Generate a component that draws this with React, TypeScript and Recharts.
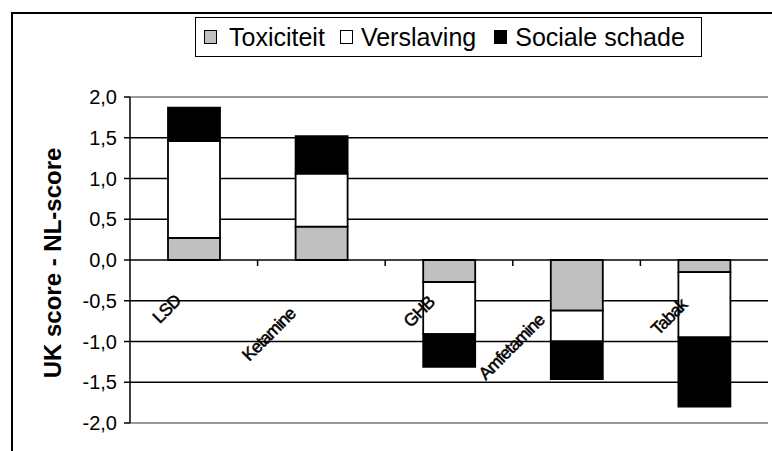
import React from "react";
import { BarChart, Bar, XAxis, YAxis, CartesianGrid } from "recharts";

const categories = ["LSD", "Ketamine", "GHB", "Amfetamine", "Tabak"];
const toxiciteit = [0.27, 0.41, -0.27, -0.62, -0.15];
const verslaving = [1.19, 0.65, -0.64, -0.38, -0.8];
const socialeSchade = [0.41, 0.46, -0.4, -0.46, -0.85];
const yTicks = [-2, -1.5, -1, -0.5, 0, 0.5, 1, 1.5, 2];

const seriesInfo = [
  { key: "tox", name: "Toxiciteit", color: "#C0C0C0" },
  { key: "vers", name: "Verslaving", color: "#FFFFFF" },
  { key: "soc", name: "Sociale schade", color: "#000000" },
];

const data = categories.map((c, i) => ({
  name: c,
  tox: toxiciteit[i],
  vers: verslaving[i],
  soc: socialeSchade[i],
}));

const W = 772;
const H = 451;
const M = { top: 97, right: 4, bottom: 0, left: 0 };
const X_AXIS_H = 28;
const Y_AXIS_W = 130;
const PLOT_W = W - M.left - M.right - Y_AXIS_W;
const PLOT_H = H - M.top - M.bottom - X_AXIS_H;
const BAND = PLOT_W / categories.length;
const ZERO_Y = M.top + PLOT_H / 2;
const FONT = '"Liberation Sans", Arial, sans-serif';
const XFS = 17.5;

let canvasCtx: CanvasRenderingContext2D | null = null;
function measure(text: string, font: string) {
  try {
    if (!canvasCtx) {
      const c = document.createElement("canvas");
      canvasCtx = c.getContext("2d");
    }
    if (!canvasCtx) return text.length * 8;
    canvasCtx.font = font;
    return canvasCtx.measureText(text).width;
  } catch (e) {
    return text.length * 8;
  }
}

const renderXTick = (props: any) => {
  const { x, payload, index } = props;
  const label = String(payload.value);
  const L = measure(label, `16px ${FONT}`);
  const ax = x - 1;
  const ay = ZERO_Y + 31;
  return (
    <g key={`xt-${index}`}>
      {index < categories.length - 1 && (
        <line x1={x + BAND / 2} x2={x + BAND / 2} y1={ZERO_Y} y2={ZERO_Y + 6} stroke="#000" strokeWidth={1.5} />
      )}
      <text
        transform={`translate(${ax},${ay}) rotate(-45)`}
        x={-L / 2}
        y={0}
        textAnchor="end"
        fontFamily={FONT}
        fontSize={XFS}
        fill="#000"
        stroke="#000"
        strokeWidth={0.5}
        letterSpacing={-0.9}
      >
        {label}
      </text>
    </g>
  );
};

const renderHLine = (p: any) => {
  const edge = Math.abs(p.y1 - M.top) < 1 || Math.abs(p.y1 - (M.top + PLOT_H)) < 1;
  return (
    <line
      key={`hl-${p.index}-${p.y1}`}
      x1={p.x1}
      x2={p.x2}
      y1={p.y1}
      y2={p.y2}
      stroke={edge ? "#999" : "#000"}
      strokeWidth={edge ? 2 : 1.4}
    />
  );
};

const YTitle = (props: any) => {
  const vb = props.viewBox || { x: 0, y: M.top, width: Y_AXIS_W, height: PLOT_H };
  const cx = 52;
  const cy = vb.y + vb.height / 2 + 3;
  return (
    <text
      transform={`translate(${cx},${cy}) rotate(-90)`}
      textAnchor="middle"
      dominantBaseline="central"
      fontFamily={FONT}
      fontWeight="bold"
      fontSize={24}
      fill="#000"
    >
      UK score - NL-score
    </text>
  );
};

const fmt = (v: number) => v.toFixed(1).replace(".", ",");

export default function App() {
  return (
    <div style={{ position: "absolute", left: 0, top: 0, width: W, height: H, background: "#fff", overflow: "hidden" }}>
      <div
        style={{
          position: "absolute",
          left: 11,
          top: 12,
          width: W + 20,
          height: H + 20,
          border: "2px solid #000",
          boxSizing: "border-box",
        }}
      />
      <BarChart width={W} height={H} data={data} margin={M} barSize={52} style={{ position: "absolute", left: 0, top: 0 }}>
        <CartesianGrid vertical={false} horizontal={renderHLine} />
        <XAxis
          dataKey="name"
          axisLine={{ stroke: "#999", strokeWidth: 2 }}
          tickLine={false}
          tickSize={0}
          tickMargin={0}
          height={X_AXIS_H}
          interval={0}
          tick={renderXTick}
        />
        <XAxis xAxisId="top" dataKey="name" orientation="top" height={0} axisLine={{ stroke: "#999", strokeWidth: 2 }} tick={false} tickLine={false} />
        <YAxis
          width={Y_AXIS_W}
          domain={[-2, 2]}
          ticks={yTicks}
          interval={0}
          tickFormatter={fmt}
          axisLine={{ stroke: "#000", strokeWidth: 1.5 }}
          tickLine={{ stroke: "#000", strokeWidth: 1.5 }}
          tickSize={6}
          tickMargin={7}
          tick={{ fontFamily: FONT, fontSize: 20, fill: "#000" }}
          label={<YTitle />}
        />
        <YAxis yAxisId="right" orientation="right" width={0} domain={[-2, 2]} axisLine={{ stroke: "#999", strokeWidth: 2 }} tick={false} tickLine={false} />
        {seriesInfo.map((s) => (
          <Bar
            key={s.key}
            dataKey={s.key}
            name={s.name}
            stackId="a"
            fill={s.color}
            stroke="#000"
            strokeWidth={1.8}
            isAnimationActive={false}
          />
        ))}
      </BarChart>
      <div
        style={{
          position: "absolute",
          left: 195,
          top: 17,
          width: 507,
          height: 40,
          border: "1.5px solid #000",
          boxSizing: "border-box",
          background: "#fff",
          display: "flex",
          alignItems: "center",
          paddingLeft: 8,
          fontFamily: FONT,
          fontSize: 25,
          color: "#000",
          whiteSpace: "nowrap",
        }}
      >
        {seriesInfo.map((s, i) => (
          <div key={s.key} style={{ display: "flex", alignItems: "center", marginRight: i === 1 ? 18 : 15 }}>
            <span
              style={{
                display: "inline-block",
                width: 13,
                height: 14,
                background: s.color,
                border: "1.5px solid #000",
                boxSizing: "border-box",
                marginRight: i === 0 ? 12 : 8,
              }}
            />
            <span style={{ lineHeight: "25px" }}>{s.name}</span>
          </div>
        ))}
      </div>
    </div>
  );
}
